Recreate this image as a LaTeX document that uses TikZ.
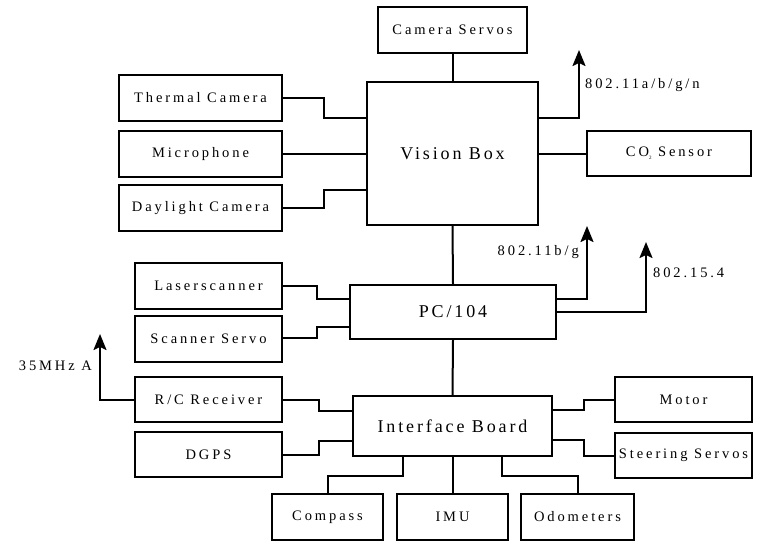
\documentclass[tikz,border=0pt]{standalone}
\usepackage{fontspec}
\setmainfont{Liberation Serif}
\newfontfamily\smallfam{Liberation Serif}[LetterSpace=20]
\newfontfamily\bigfam{Liberation Serif}[LetterSpace=16]
\usetikzlibrary{arrows.meta}
\tikzset{
  blk/.style={draw, line width=2pt, inner sep=0pt, font=\smallfam\fontsize{14.5}{17}\selectfont},
  bigblk/.style={blk, font=\bigfam\fontsize{18}{21}\selectfont},
  wire/.style={line width=2pt},
  ant/.style={wire, -{Stealth[length=16pt, width=13pt, inset=3pt]}},
  lbl/.style={inner sep=0pt, font=\smallfam\fontsize{14.5}{17}\selectfont}
}
\begin{document}
\begin{tikzpicture}[x=1pt, y=-1pt]
\useasboundingbox (0,0) rectangle (758,541);
% Vision box group
\node[blk, minimum width=149pt, minimum height=46pt] (cam) at (452.5,30) {Camera Servos};
\node[bigblk, minimum width=171pt, minimum height=143pt] (vb) at (452.5,153.5) {Vision Box};
\node[blk, minimum width=163pt, minimum height=46pt] (therm) at (200.5,98) {Thermal Camera};
\node[blk, minimum width=163pt, minimum height=46pt] (mic) at (200.5,154) {Microphone};
\node[blk, minimum width=163pt, minimum height=46pt] (day) at (200.5,208) {Daylight Camera};
\node[blk, minimum width=164pt, minimum height=45pt] (co2) at (669,153.5) {CO{\fontsize{5}{5}\selectfont\raisebox{-3pt}{2}} Sensor};
% PC group
\node[bigblk, minimum width=206pt, minimum height=54pt] (pc) at (453,312) {PC/104};
\node[blk, minimum width=147pt, minimum height=46pt] (laser) at (208.5,286) {Laserscanner};
\node[blk, minimum width=147pt, minimum height=46pt] (sservo) at (208.5,339) {Scanner Servo};
% Interface group
\node[bigblk, minimum width=199pt, minimum height=60pt] (if) at (452.5,426) {Interface Board};
\node[blk, minimum width=147pt, minimum height=45pt] (rc) at (208.5,399.5) {R/C Receiver};
\node[blk, minimum width=147pt, minimum height=45pt] (dgps) at (208.5,454.5) {DGPS};
\node[blk, minimum width=137pt, minimum height=45pt] (motor) at (683.5,399.5) {Motor};
\node[blk, minimum width=137pt, minimum height=45pt] (steer) at (683.5,455.5) {Steering Servos};
\node[blk, minimum width=111pt, minimum height=46pt] (comp) at (327.5,517) {Compass};
\node[blk, minimum width=111pt, minimum height=46pt] (imu) at (452.5,517) {IMU};
\node[blk, minimum width=113pt, minimum height=46pt] (odo) at (577.5,517) {Odometers};
% antenna tips
\coordinate (t1) at (579,50);
\coordinate (t2) at (587,226);
\coordinate (t3) at (646,242);
\coordinate (t4) at (100,334);
% labels
\node[lbl, anchor=west] (l1) at (585,85) {802.11a/b/g/n};
\node[lbl, anchor=east] (l2) at (579,252) {802.11b/g};
\node[lbl, anchor=west] (l3) at (653,273) {802.15.4};
\node[lbl, anchor=east] (l4) at (92,366) {35MHz A};
% wires
\draw[wire] (cam.south) -- (vb.north);
\draw[wire] (therm.east) -- ++(41,0) |- ([yshift=36pt]vb.west);
\draw[wire] (mic.east) -- (mic.east -| vb.west);
\draw[wire] (day.east) -- ++(41,0) |- ([yshift=-36pt]vb.west);
\draw[wire] (co2.west -| vb.east) -- (co2.west);
\draw[ant] ([yshift=36pt]vb.east) -| (t1);
\draw[wire] (vb.south) -- (pc.north);
\draw[wire] (laser.east) -- ++(34,0) |- ([yshift=13pt]pc.west);
\draw[wire] ([yshift=1pt]sservo.east) -- ++(34,0) |- ([yshift=-15pt]pc.west);
\draw[ant] ([yshift=13pt]pc.east) -| (t2);
\draw[ant] (pc.east) -| (t3);
\draw[wire] (pc.south) -- (if.north);
\draw[wire] (rc.east) -- ++(36,0) |- ([yshift=15pt]if.west);
\draw[wire] (dgps.east) -- ++(36,0) |- ([yshift=-15pt]if.west);
\draw[ant] (rc.west) -| (t4);
\draw[wire] ([yshift=16pt]if.east) -- ++(31,0) |- (motor.west);
\draw[wire] ([yshift=-14pt]if.east) -- ++(31,0) |- (steer.west);
\draw[wire] ([xshift=-50pt]if.south) -- ++(0,19) -| (comp.north);
\draw[wire] (if.south) -- (imu.north);
\draw[wire] ([xshift=49.5pt]if.south) -- ++(0,19) -| (odo.north);
\end{tikzpicture}
\end{document}
